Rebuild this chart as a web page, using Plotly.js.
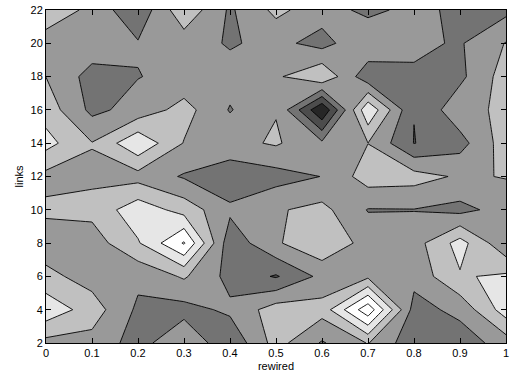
<!DOCTYPE html>
<html>
<head>
<meta charset="utf-8">
<script src="https://cdn.plot.ly/plotly-3.0.1.min.js"></script>
<style>html,body{margin:0;padding:0;background:#fff;}#chart{width:513px;height:380px;}</style>
</head>
<body>
<div id="chart"></div>
<script>
// x: rewired probability, y: links
var rewired = [0, 0.1, 0.2, 0.3, 0.4, 0.5, 0.6, 0.7, 0.8, 0.9, 1];
var links = [2, 4, 6, 8, 10, 12, 14, 16, 18, 20, 22];

// values, one row per "links" value (x = 0 ... 1)
var zLinks2  = [3.68, 3.65, 2.58, 3.88, 2.2, 4.4, 2.9, 4.05, 2.3, 2.41, 3.5];
var zLinks4  = [5.68, 4.51, 2.81, 2.64, 3.2, 4.5, 4.4, 7.7, 2.6, 3.3, 5.5];
var zLinks6  = [4.29, 3.57, 3.24, 4.13, 2.68, 1.9, 3.27, 3.8, 3.34, 4.9, 5.18];
var zLinks8  = [3.43, 3.5, 4.9, 7.1, 2.34, 3.87, 4.8, 3.62, 3.56, 5.4, 3.18];
var zLinks10 = [4.2, 4.29, 5.62, 4.6, 3.2, 3.89, 4.3, 2.95, 2.97, 2.7, 3.4];
var zLinks12 = [3.69, 3.82, 3.62, 2.9, 2.3, 2.6, 3.02, 4.5, 4.4, 3.86, 4.05];
var zLinks14 = [5.35, 4.04, 5.83, 3.95, 3.7, 4.12, 3.2, 3.99, 1.975, 2.62, 4.52];
var zLinks16 = [4.57, 2.75, 3.37, 4.39, 2.93, 3.95, 0.05, 5.85, 2.02, 3.68, 4.2];
var zLinks18 = [3.99, 2.6, 2.97, 3.27, 3.4, 3.84, 4.9, 2.3, 2.85, 2.76, 4.48];
var zLinks20 = [3.33, 3.63, 3.08, 3.46, 2.9, 3.29, 2.63, 3.86, 3.2, 2.9, 4.05];
var zLinks22 = [4.93, 3.64, 2.25, 4.75, 2.85, 4.25, 3.45, 2.74, 3.3, 2.76, 2.73];

var xTickVals = [0, 0.1, 0.2, 0.3, 0.4, 0.5, 0.6, 0.7, 0.8, 0.9, 1];
var xTickText = ['0', '0.1', '0.2', '0.3', '0.4', '0.5', '0.6', '0.7', '0.8', '0.9', '1'];
var yTickVals = [2, 4, 6, 8, 10, 12, 14, 16, 18, 20, 22];

var z = [zLinks2, zLinks4, zLinks6, zLinks8, zLinks10, zLinks12,
         zLinks14, zLinks16, zLinks18, zLinks20, zLinks22];

var grayScale = [
  [0, '#262626'], [1/7, '#4c4c4c'], [2/7, '#737373'], [3/7, '#999999'],
  [4/7, '#c0c0c0'], [5/7, '#e6e6e6'], [6/7, '#ffffff'], [1, '#ffffff']
];

var trace = {
  type: 'contour',
  x: rewired,
  y: links,
  z: z,
  autocontour: false,
  contours: {start: 1, end: 7, size: 1, coloring: 'fill', showlines: true},
  line: {color: '#000000', width: 0.9, smoothing: 0},
  colorscale: grayScale,
  showscale: false,
  hoverinfo: 'skip'
};

var font = {family: 'Liberation Sans, Arial, Helvetica, sans-serif', size: 11, color: '#000'};

var layout = {
  width: 513,
  height: 380,
  margin: {l: 46, r: 7, t: 10, b: 37, pad: 0},
  paper_bgcolor: '#ffffff',
  plot_bgcolor: '#ffffff',
  font: font,
  showlegend: false,
  xaxis: {
    range: [0, 1],
    tickvals: xTickVals,
    ticktext: xTickText,
    ticks: 'inside',
    ticklen: 5,
    tickwidth: 1,
    tickcolor: '#000',
    showline: true,
    linecolor: '#000',
    linewidth: 1,
    mirror: 'ticks',
    showgrid: false,
    zeroline: false,
    tickfont: font,
    title: {text: 'rewired', font: font, standoff: 4}
  },
  yaxis: {
    range: [2, 22],
    tickvals: yTickVals,
    ticks: 'inside',
    ticklen: 5,
    tickwidth: 1,
    tickcolor: '#000',
    showline: true,
    linecolor: '#000',
    linewidth: 1,
    mirror: 'ticks',
    showgrid: false,
    zeroline: false,
    tickfont: font,
    title: {text: 'links', font: font, standoff: 4}
  }
};

Plotly.newPlot('chart', [trace], layout, {displayModeBar: false, staticPlot: true});
</script>
</body>
</html>
